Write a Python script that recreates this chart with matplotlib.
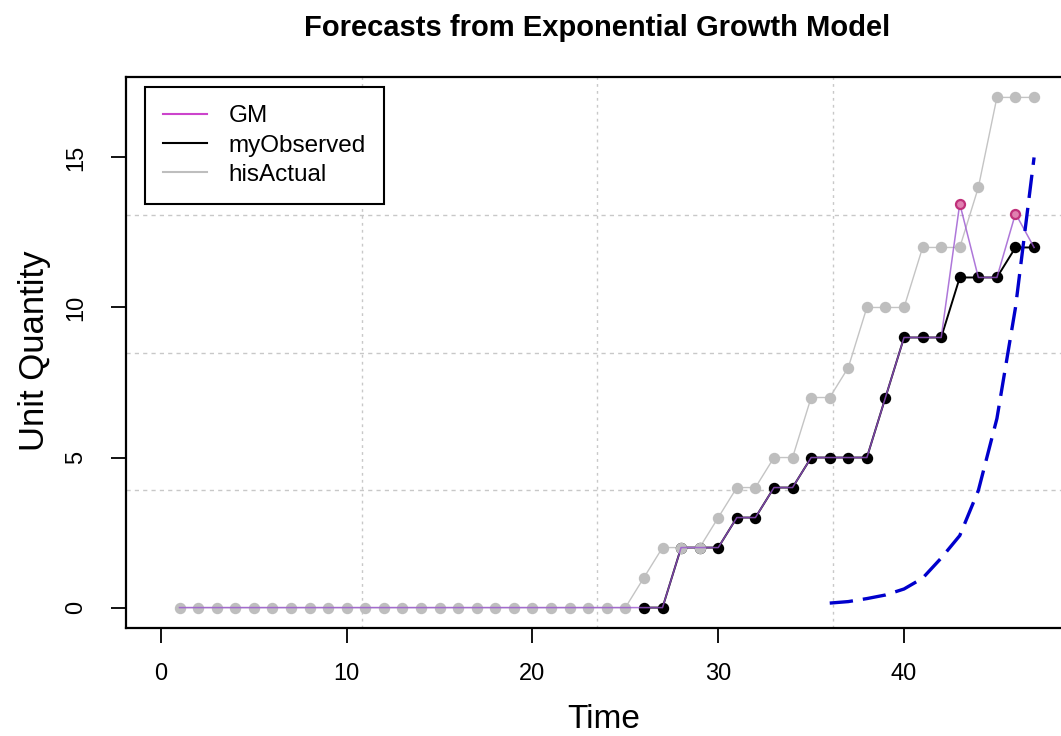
import matplotlib
matplotlib.use("Agg")
import matplotlib.pyplot as plt
from matplotlib.lines import Line2D
import numpy as np

plt.rcParams['font.family'] = ['Liberation Sans', 'DejaVu Sans']

# ---- data ----
time_all = list(range(1, 48))
his_actual = [0]*25 + [1, 2, 2, 2, 3, 4, 4, 5, 5, 7, 7, 8, 10, 10, 10,
                       12, 12, 12, 14, 17, 17, 17]
time_obs = list(range(26, 48))
my_observed = [0, 0, 2, 2, 2, 3, 3, 4, 4, 5, 5, 5, 5, 7, 9, 9, 9, 11, 11, 11, 12, 12]
gm_fitted = [0]*25 + [0, 0, 2, 2, 2, 3, 3, 4, 4, 5, 5, 5, 5, 7, 9, 9, 9,
                      13.46, 11, 11, 13.13, 12]
gm_marked_time = [43, 46]
gm_marked_vals = [13.46, 13.13]
time_fc = list(range(36, 48))
forecast = [0.15, 0.2, 0.3, 0.42, 0.62, 0.98, 1.65, 2.4, 3.9, 6.3, 10.0, 15.0]

x_ticks = [0, 10, 20, 30, 40]
y_ticks = [0, 5, 10, 15]

W, H = 1061, 736
fig = plt.figure(figsize=(W/100, H/100), dpi=100)
ax = fig.add_axes([126/W, 1-628/H, (1069-126)/W, (628-77)/H])

xlo, xhi = -1.88, 48.88
ylo, yhi = -0.68, 17.68
ax.set_xlim(xlo, xhi)
ax.set_ylim(ylo, yhi)

# grid (R grid(): equal cells)
gcol = '#C8C8C8'
for k in range(1, 4):
    ax.axvline(xlo + k*(xhi-xlo)/4, color=gcol, lw=1.0, ls=(0, (2, 3)), zorder=0)
    ax.axhline(ylo + k*(yhi-ylo)/4, color=gcol, lw=1.0, ls=(0, (3, 3)), zorder=0)

# lines
ax.plot(time_obs, my_observed, color='black', lw=1.4, zorder=2)
ax.plot(time_all, his_actual, color='#C4C4C4', lw=1.0, zorder=2)
ax.plot(time_obs, my_observed, 'o', color='black', ms=7.2, zorder=3)
ax.plot(time_all, his_actual, 'o', color='#BEBEBE', mec='#BEBEBE', ms=7.2, zorder=4)
ax.plot(time_all, gm_fitted, color='#9A55D0', lw=1.1, alpha=0.8, zorder=5)
ax.plot(gm_marked_time, gm_marked_vals, 'o', mfc='#E080B0', mec='#C0307A',
        mew=1.6, ms=6.5, zorder=6)
ax.plot(time_fc, forecast, color='#0000CC', lw=2.4, ls=(0, (7.0, 3.0)), zorder=6)

# axes styling
for s in ax.spines.values():
    s.set_linewidth(1.6)
ax.set_xticks(x_ticks)
ax.set_yticks(y_ticks)
ax.tick_params(axis='both', length=11, width=1.3, labelsize=17)
ax.tick_params(axis='x', pad=14)
ax.tick_params(axis='y', pad=17)
for lab in ax.get_yticklabels():
    lab.set_rotation(90)
    lab.set_va('center')

fig.text(604/W, 1-719/H, 'Time', ha='center', va='center', fontsize=24)
fig.text(35/W, 1-351/H, 'Unit Quantity', ha='center', va='center',
         rotation=90, fontsize=25)
fig.text(597/W, 1-28/H, 'Forecasts from Exponential Growth Model',
         ha='center', va='center', fontsize=21, fontweight='bold')

handles = [Line2D([], [], color='#CC44CC', lw=1.5),
           Line2D([], [], color='black', lw=1.5),
           Line2D([], [], color='#BEBEBE', lw=1.5)]
leg = ax.legend(handles, ['GM', 'myObserved', 'hisActual'],
                loc='upper left', bbox_to_anchor=((145-126)/(1069-126), 1-(87-77)/(628-77)),
                fontsize=17.5, fancybox=False, framealpha=1, edgecolor='black',
                handlelength=1.8, handletextpad=0.9, borderpad=0.75,
                labelspacing=0.3, borderaxespad=0)
leg.get_frame().set_linewidth(1.5)

fig.savefig('out.png', dpi=100)
